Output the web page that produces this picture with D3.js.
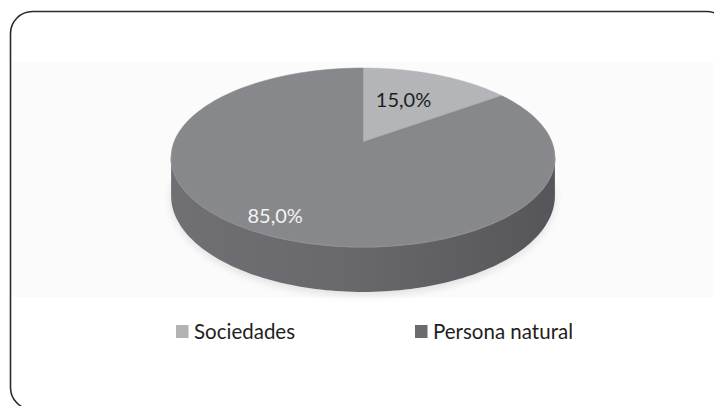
<!DOCTYPE html>
<html>
<head>
<meta charset="utf-8">
<script src="https://cdn.jsdelivr.net/npm/d3@7"></script>
<style>
  body { margin: 0; background: #fff; }
  svg { display: block; font-family: Lato, "Open Sans", sans-serif; }
</style>
</head>
<body>
<svg></svg>
<script>
const width = 714;
const height = 406;

// data
const categories = ["Sociedades", "Persona natural"];
const values = [15.0, 85.0];
const valueLabels = ["15,0%", "85,0%"];

const topColor = d3.scaleOrdinal()
  .domain(categories)
  .range(["#b4b5b8", "#87888c"]);
const keyColor = d3.scaleOrdinal()
  .domain(categories)
  .range(["#b3b3b5", "#6b6b6f"]);

// pie geometry (screen space) with a little perspective
const cx = 363, cy = 142;
const A = 189, B = 86.8, k = 0.173, depth = 37.2;

function project(angle, r, drop) {
  const u = r * Math.sin(angle);
  const v = -r * Math.cos(angle);
  const w = 1 - k * v;
  return [cx + A * u / w, cy + B * v / w + (drop || 0) / w];
}

const svg = d3.select("svg")
  .attr("width", width)
  .attr("height", height);

const defs = svg.append("defs");

const sideGrad = defs.append("linearGradient")
  .attr("id", "side")
  .attr("x1", "0").attr("x2", "1").attr("y1", "0").attr("y2", "0");
sideGrad.append("stop").attr("offset", "0%").attr("stop-color", "#707074");
sideGrad.append("stop").attr("offset", "45%").attr("stop-color", "#69696d");
sideGrad.append("stop").attr("offset", "100%").attr("stop-color", "#55555a");

defs.append("filter").attr("id", "blur")
  .attr("x", "-20%").attr("y", "-20%").attr("width", "140%").attr("height", "140%")
  .append("feGaussianBlur").attr("stdDeviation", 4);

// faint plot band
svg.append("rect")
  .attr("x", 10).attr("y", 62)
  .attr("width", 720).attr("height", 235)
  .attr("fill", "#fbfbfb");

// outer rounded frame
svg.append("rect")
  .attr("x", 10.5).attr("y", 11.5)
  .attr("width", 718).attr("height", 398)
  .attr("rx", 22).attr("ry", 22)
  .attr("fill", "none")
  .attr("stroke", "#2a2a2a")
  .attr("stroke-width", 1.6);

const pie = d3.pie()
  .sort(null)
  .startAngle(0)
  .endAngle(2 * Math.PI)
  .value(function (d) { return d; });

const arcs = pie(values);

const line = d3.line();
const steps = 120;

function rimPoints(a0, a1, drop) {
  const pts = [];
  for (let i = 0; i <= steps; i++) {
    pts.push(project(a0 + (a1 - a0) * i / steps, 1, drop));
  }
  return pts;
}

// soft shadow under the pie
const shadowPts = rimPoints(Math.PI / 2, 3 * Math.PI / 2, depth + 3);
svg.append("path")
  .attr("d", line(shadowPts) + "Z")
  .attr("fill", "#000")
  .attr("opacity", 0.1)
  .attr("filter", "url(#blur)");

// visible outer wall: between the two silhouette angles
const silA = Math.acos(-k);
const silB = 2 * Math.PI - silA;
const g = svg.append("g");

arcs.forEach(function (d, i) {
  const a0 = Math.max(d.startAngle, silA);
  const a1 = Math.min(d.endAngle, silB);
  if (a1 <= a0) return;
  const topPts = rimPoints(a0, a1, 0);
  const botPts = rimPoints(a0, a1, depth).reverse();
  g.append("path")
    .attr("d", line(topPts.concat(botPts)) + "Z")
    .attr("fill", "url(#side)");
});

// top faces
arcs.forEach(function (d, i) {
  const pts = [[cx, cy]].concat(rimPoints(d.startAngle, d.endAngle, 0));
  g.append("path")
    .attr("d", line(pts) + "Z")
    .attr("fill", topColor(categories[i]))
    .attr("stroke", topColor(categories[i]))
    .attr("stroke-width", 0.5);
});

// slight highlight along the front rim
g.append("path")
  .attr("d", line(rimPoints(silA, silB, 0)))
  .attr("fill", "none")
  .attr("stroke", "#8e8f93")
  .attr("stroke-width", 1.2);

// value labels
const labelPlace = [
  {angle: 0.43, r: 0.56, dy: 6, fill: "#1e1e1e"},
  {angle: 3.63, r: 0.86, dy: 5, fill: "#f4f4f4"}
];
arcs.forEach(function (d, i) {
  const p = project(labelPlace[i].angle, labelPlace[i].r, 0);
  svg.append("text")
    .attr("x", p[0])
    .attr("y", p[1] + labelPlace[i].dy)
    .attr("text-anchor", "middle")
    .attr("font-size", 20)
    .attr("fill", labelPlace[i].fill)
    .text(valueLabels[i]);
});

// legend
const legendX = d3.scalePoint()
  .domain(categories)
  .range([176, 415]);

const legend = svg.selectAll(".legend")
  .data(categories)
  .enter()
  .append("g")
  .attr("class", "legend")
  .attr("transform", function (d) { return "translate(" + legendX(d) + ",325)"; });

legend.append("rect")
  .attr("width", 12.5)
  .attr("height", 13)
  .attr("fill", function (d) { return keyColor(d); });

legend.append("text")
  .attr("x", 18)
  .attr("y", 13.5)
  .attr("font-size", 20.5)
  .attr("fill", "#1e1e1e")
  .text(function (d) { return d; });
</script>
</body>
</html>
